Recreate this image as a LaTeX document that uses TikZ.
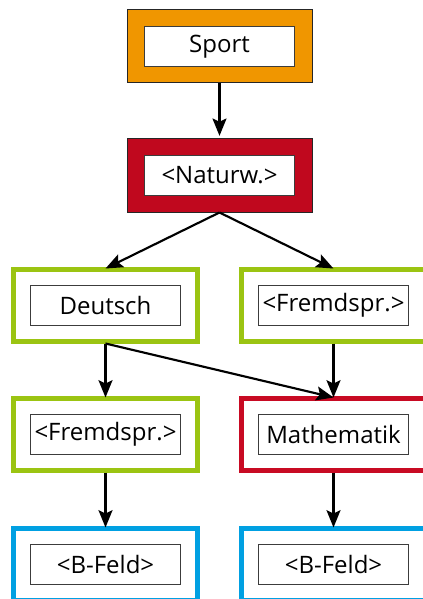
\documentclass[tikz,border=0pt]{standalone}
\usepackage{fontspec}
\setmainfont{Open Sans}
\usetikzlibrary{arrows.meta}
\definecolor{cOrange}{RGB}{240,150,0}
\definecolor{cDarkRed}{RGB}{192,8,30}
\definecolor{cGreen}{RGB}{155,196,18}
\definecolor{cBlue}{RGB}{0,160,226}
\definecolor{cRed}{RGB}{200,10,35}
\definecolor{cFrame}{RGB}{60,60,60}
\begin{document}
\begin{tikzpicture}[x=0.75pt,y=-0.75pt,
  filledbox/.style={rectangle, draw=black!85, line width=0.75pt, fill=#1, minimum width=185*0.75pt, minimum height=73*0.75pt, inner sep=0pt},
  linebox/.style={rectangle, draw=#1, line width=3.75pt, fill=white, minimum width=184*0.75pt, minimum height=72*0.75pt, inner sep=0pt},
  label/.style={rectangle, draw=cFrame, line width=0.75pt, fill=white, minimum width=150*0.75pt, minimum height=40*0.75pt, inner sep=0pt, font=\fontsize{18pt}{21pt}\selectfont},
  arr/.style={-{Stealth[length=13pt,width=10.5pt,inset=2.5pt]}, line width=1.6pt}]
\useasboundingbox (0,0) rectangle (423,599);
\clip (0,0) rectangle (423,599);
% outer boxes
\node[filledbox=cOrange] (sport) at (219.5,46.5) {};
\node[filledbox=cDarkRed] (naturw) at (219.5,175.5) {};
\node[linebox=cGreen] (deutsch) at (105.5,305) {};
\node[linebox=cGreen] (fremd1) at (333.5,305) {};
\node[linebox=cGreen] (fremd2) at (105.5,434) {};
\node[linebox=cRed] (mathe) at (333.5,434) {};
\node[linebox=cBlue] (bfeld1) at (105.5,564) {};
\node[linebox=cBlue] (bfeld2) at (333.5,564) {};
% labels
\node[label] (tsport) at (sport) {Sport};
\node[label] (tnaturw) at (naturw) {<Naturw.>};
\node[label] (tdeutsch) at (deutsch) {Deutsch};
\node[label] (tfremd1) at (fremd1) {<Fremdspr.>};
\node[label] (tfremd2) at (fremd2) {<Fremdspr.>};
\node[label] (tmathe) at (mathe) {Mathematik};
\node[label] (tbfeld1) at (bfeld1) {<B-Feld>};
\node[label] (tbfeld2) at (bfeld2) {<B-Feld>};
% connectors
\draw[arr, shorten >=2pt] (sport.south) -- (naturw.north);
\draw[arr] (naturw.south) -- ([yshift=-1.5pt]deutsch.north);
\draw[arr] (naturw.south) -- ([yshift=-1.5pt]fremd1.north);
\draw[arr] (deutsch.south) -- ([yshift=-1.5pt]fremd2.north);
\draw[arr] (deutsch.south) -- ([yshift=-1.5pt]mathe.north);
\draw[arr] (fremd1.south) -- ([yshift=-1.5pt]mathe.north);
\draw[arr] (fremd2.south) -- ([yshift=-1.5pt]bfeld1.north);
\draw[arr] (mathe.south) -- ([yshift=-1.5pt]bfeld2.north);
\end{tikzpicture}
\end{document}
